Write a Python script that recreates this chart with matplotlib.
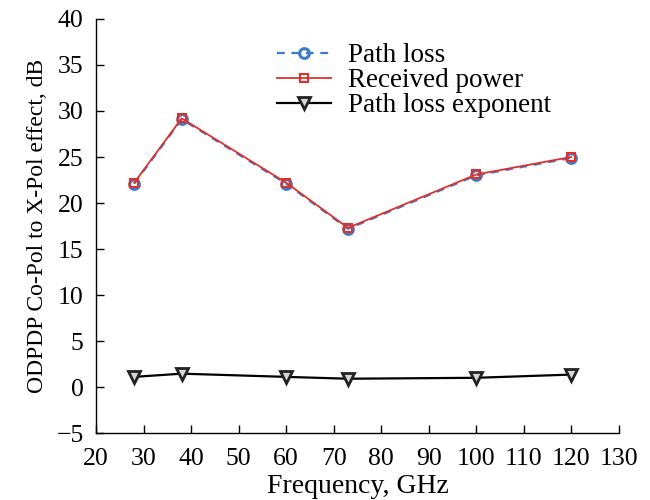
import matplotlib
matplotlib.use("Agg")
import matplotlib.pyplot as plt

# values
frequency_ghz = [28, 38, 60, 73, 100, 120]
path_loss = [22.1, 29.1, 22.1, 17.2, 23.0, 24.9]
received_power = [22.2, 29.2, 22.2, 17.3, 23.1, 25.0]
path_loss_exponent = [1.1, 1.45, 1.1, 0.9, 1.0, 1.35]

x_ticks = list(range(20, 131, 10))
y_ticks = list(range(-5, 41, 5))

plt.rcParams["font.family"] = ["Liberation Serif", "DejaVu Serif"]
plt.rcParams["font.size"] = 18.5

fig = plt.figure(figsize=(6.5, 5), dpi=100)
ax = fig.add_axes([0.148, 0.134, 0.804, 0.828])

ax.plot(frequency_ghz, path_loss, color="#3a7ccc", linestyle=(0, (3.5, 3)), linewidth=1.6,
        marker="o", markersize=7, markerfacecolor="none", markeredgecolor="#3a7ccc",
        markeredgewidth=2.2, label="Path loss")
ax.plot(frequency_ghz, received_power, color="#e0302a", linewidth=1.3,
        marker="s", markersize=5.5, markerfacecolor="none", markeredgecolor="#e0302a",
        markeredgewidth=1.5, label="Received power")
ax.plot(frequency_ghz, path_loss_exponent, color="black", linewidth=1.6,
        marker="v", markersize=8, markerfacecolor="#d8d8d8", markeredgecolor="#222222",
        markeredgewidth=2.0, label="Path loss exponent")

ax.set_xlim(20, 130)
ax.set_ylim(-5, 40)
ax.set_xticks(x_ticks)
ax.set_yticks(y_ticks)
ax.set_yticklabels([str(v).replace("-", "\u2212") for v in y_ticks])
ax.tick_params(direction="in", length=6, width=1, top=False, right=False)
ax.tick_params(axis="x", pad=11)
ax.tick_params(axis="y", pad=9)

for side in ("top", "right"):
    ax.spines[side].set_visible(False)
for side in ("left", "bottom"):
    ax.spines[side].set_linewidth(1)

ax.set_xlabel("Frequency, GHz", fontsize=20, labelpad=3)
ax.set_ylabel("ODPDP Co-Pol to X-Pol effect, dB", fontsize=17, labelpad=6)

ax.legend(loc="upper left", bbox_to_anchor=(0.31, 0.987), frameon=False, fontsize=19.5,
          handlelength=2.0, handletextpad=0.6, labelspacing=0.0, borderpad=0.2)

plt.savefig("out.png", dpi=100)
plt.close()
